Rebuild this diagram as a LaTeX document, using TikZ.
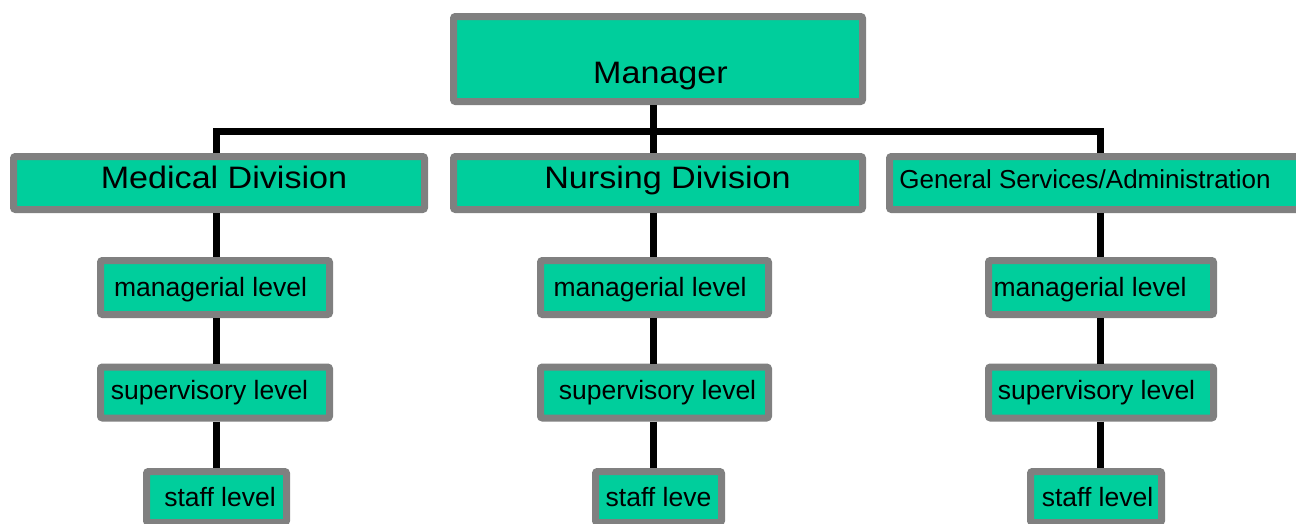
\documentclass[tikz,border=0pt]{standalone}
\usepackage{fontspec}
\setmainfont{Liberation Sans}
\newfontfamily\bigfont[FakeStretch=1.1]{Liberation Sans}
\definecolor{boxfill}{RGB}{0,206,156}
\definecolor{boxline}{RGB}{128,128,128}
\begin{document}
\begin{tikzpicture}[x=1pt,y=-1pt,
  box/.style={draw=boxline, fill=boxfill, line width=7pt, rounded corners=2pt, inner sep=0pt},
  conn/.style={draw=black, line width=7pt},
  bigtxt/.style={font=\bigfont\fontsize{31}{36}\selectfont, anchor=base, inner sep=0pt},
  gentxt/.style={font=\fontsize{26}{30}\selectfont, anchor=base, inner sep=0pt},
  lvltxt/.style={font=\fontsize{26.5}{30}\selectfont, anchor=base, inner sep=0pt}
]
\useasboundingbox (0,0) rectangle (1296,523);
\clip (0,0) rectangle (1296,523);
\fill[white] (0,0) rectangle (1296,523);

% boxes
\node[box, minimum width=409pt, minimum height=85pt] (mgr) at (658,59) {};
\node[box, minimum width=411pt, minimum height=53pt] (med) at (219,183) {};
\node[box, minimum width=409pt, minimum height=53pt] (nur) at (658,183) {};
\node[box, minimum width=421pt, minimum height=53pt] (gen) at (1100,183) {};

\node[box, minimum width=229pt, minimum height=54pt] (medm) at (215,287.5) {};
\node[box, minimum width=229pt, minimum height=51pt] (meds) at (215,392.5) {};
\node[box, minimum width=140pt, minimum height=51pt] (medst) at (216.5,497) {};

\node[box, minimum width=228pt, minimum height=54pt] (nurm) at (654.5,287.5) {};
\node[box, minimum width=228pt, minimum height=51pt] (nurs) at (654.5,392.5) {};
\node[box, minimum width=126pt, minimum height=51pt] (nurst) at (658.5,497) {};

\node[box, minimum width=225pt, minimum height=54pt] (genm) at (1101,287.5) {};
\node[box, minimum width=225pt, minimum height=51pt] (gens) at (1101,392.5) {};
\node[box, minimum width=131pt, minimum height=51pt] (genst) at (1096,497) {};

% texts (baseline-anchored)
\node[bigtxt] (mgrT) at (660.5,83) {Manager};
\node[bigtxt] (medT) at (224,188) {Medical Division};
\node[bigtxt] (nurT) at (667.5,188) {Nursing Division};
\node[gentxt] (genT) at (1085,188) {General Services/Administration};

\node[lvltxt] (medmT) at (210.5,296) {managerial level};
\node[lvltxt] (medsT) at (209.5,399) {supervisory level};
\node[lvltxt] (medstT) at (220,506) {staff level};

\node[lvltxt] (nurmT) at (650,296) {managerial level};
\node[lvltxt] (nursT) at (657.5,399) {supervisory level};
\node[lvltxt] (nurstT) at (658.5,506) {staff leve};

\node[lvltxt] (genmT) at (1090,296) {managerial level};
\node[lvltxt] (gensT) at (1096.5,399) {supervisory level};
\node[lvltxt] (genstT) at (1097.5,506) {staff level};

% connectors
\coordinate (bus) at (653,131);
\coordinate (cm) at (216,131);
\coordinate (cg) at (1100,131);
\draw[conn] (mgr.south -| bus) -- (bus);
\draw[conn] (med.north -| cm) -- (cm) -- (cg) -- (gen.north -| cg);
\draw[conn] (bus) -- (nur.north -| bus);

\draw[conn] (med.south -| cm) -- (medm.north -| cm);
\draw[conn] (medm.south -| cm) -- (meds.north -| cm);
\draw[conn] (meds.south -| cm) -- (medst.north -| cm);

\draw[conn] (nur.south -| bus) -- (nurm.north -| bus);
\draw[conn] (nurm.south -| bus) -- (nurs.north -| bus);
\draw[conn] (nurs.south -| bus) -- (nurst.north -| bus);

\draw[conn] (gen.south -| cg) -- (genm.north -| cg);
\draw[conn] (genm.south -| cg) -- (gens.north -| cg);
\draw[conn] (gens.south -| cg) -- (genst.north -| cg);
\end{tikzpicture}
\end{document}
